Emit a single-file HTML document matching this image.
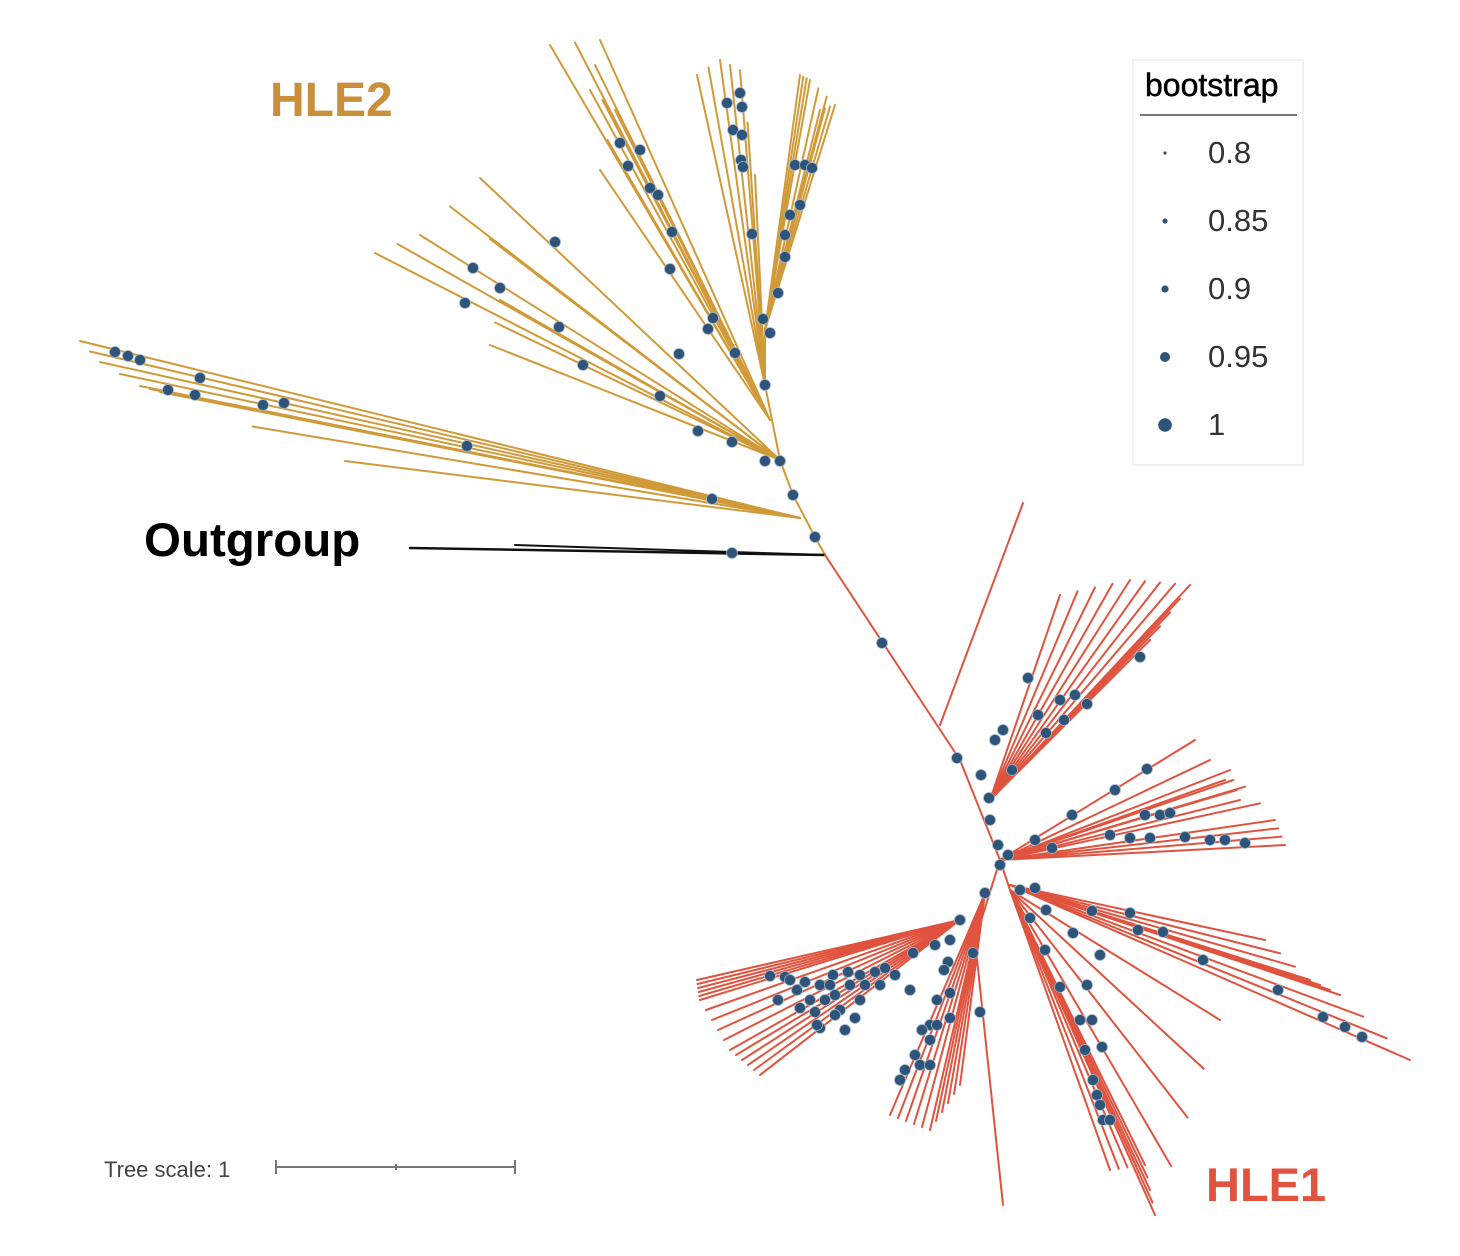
<!DOCTYPE html>
<html><head><meta charset="utf-8">
<style>
html,body{margin:0;padding:0;background:#fff;}
body{width:1460px;height:1256px;overflow:hidden;position:relative;font-family:"Liberation Sans",sans-serif;}
svg{position:absolute;left:0;top:0;}
</style></head>
<body>
<svg id="s" width="1460" height="1256" viewBox="0 0 1460 1256">
<g id="lines" stroke-linecap="round" fill="none"></g>
<g id="dots" fill="#2E5479" stroke="#9fb3c8" stroke-width="0.8"></g>
<text x="270" y="116" font-family="Liberation Sans" font-weight="bold" font-size="48" fill="#C98F3A">HLE2</text>
<text x="144" y="556" font-family="Liberation Sans" font-weight="bold" font-size="47.5" fill="#000">Outgroup</text>
<text x="1206" y="1201" font-family="Liberation Sans" font-weight="bold" font-size="47" fill="#E0533F">HLE1</text>
<rect x="1133" y="60" width="170" height="405" fill="none" stroke="#eee" stroke-width="1.5"/>
<text x="1145" y="96" font-family="Liberation Sans" font-size="32" fill="#000" stroke="#000" stroke-width="0.5">bootstrap</text>
<line x1="1140" y1="115" x2="1297" y2="115" stroke="#777" stroke-width="2"/>
<g fill="#2E5479">
<circle cx="1165" cy="153" r="1.6"/><circle cx="1165" cy="221" r="2.6"/><circle cx="1165" cy="289" r="3.6"/><circle cx="1165" cy="357" r="5"/><circle cx="1165" cy="425" r="6.8"/>
</g>
<g font-family="Liberation Sans" font-size="31" fill="#333">
<text x="1208" y="163">0.8</text><text x="1208" y="231">0.85</text><text x="1208" y="299">0.9</text><text x="1208" y="367">0.95</text><text x="1208" y="435">1</text>
</g>
<text x="104" y="1177" font-family="Liberation Sans" font-size="22" fill="#444">Tree scale: 1</text>
<g stroke="#777" stroke-width="2"><line x1="276" y1="1167" x2="515" y2="1167"/><line x1="276" y1="1160" x2="276" y2="1174"/><line x1="515" y1="1160" x2="515" y2="1174"/><line x1="396" y1="1164" x2="396" y2="1170"/></g>
</svg>
<script>
var L=document.getElementById('lines'),D=document.getElementById('dots');
var NS='http://www.w3.org/2000/svg';
function ln(a,b,c,d,col,w){var e=document.createElementNS(NS,'line');e.setAttribute('x1',a);e.setAttribute('y1',b);e.setAttribute('x2',c);e.setAttribute('y2',d);e.setAttribute('stroke',col);e.setAttribute('stroke-width',w||2);L.appendChild(e);}
function dt(x,y,r){var e=document.createElementNS(NS,'circle');e.setAttribute('cx',x);e.setAttribute('cy',y);e.setAttribute('r',r||5.5);D.appendChild(e);}
var G='#D19A38',R='#E0533F';
function fan(hx,hy,ends,col,n){
  for(var i=0;i<ends.length;i++){ln(hx,hy,ends[i][0],ends[i][1],col);}
  for(var i=0;i<ends.length-1;i++){var a=ends[i],b=ends[i+1];for(var k=1;k<=n;k++){var t=k/(n+1);ln(hx,hy,a[0]+(b[0]-a[0])*t,a[1]+(b[1]-a[1])*t,col);}}
}
ln(825,555,815,537,G);ln(815,537,793,495,G);ln(793,495,780,460,G);ln(780,460,772,420,G);ln(772,420,765,385,G);ln(765,385,765,330,G);
fan(800,518,[[80,341],[100,362],[140,386],[160,392],[345,461]],G,1);
fan(780,460,[[375,253],[420,235],[480,178],[500,300],[490,345]],G,1);
fan(770,420,[[550,45],[600,40],[590,90],[615,110],[600,170]],G,1);
fan(765,385,[[697,75],[720,60],[740,70],[755,175]],G,1);
fan(765,330,[[800,75],[810,80],[835,105],[820,110]],G,2);
ln(825,555,410,548,'#111',2.5);ln(825,555,515,545,'#111',2);
ln(825,555,960,760,R);ln(940,725,1023,503,R);ln(960,760,1000,860,R);ln(1000,860,975,940,R);ln(1000,860,1010,890,R);
fan(990,800,[[1060,595],[1130,580],[1190,585],[1150,640]],R,3);
fan(1000,860,[[1195,740],[1240,800],[1230,770],[1275,820],[1285,845]],R,2);
fan(1010,885,[[1265,940],[1310,980],[1340,995],[1410,1060]],R,2);
fan(1010,890,[[1220,1020],[1155,1215],[1145,1165],[1110,1170]],R,3);
ln(975,940,1003,1205,R);
fan(985,893,[[960,1085],[930,1130],[890,1115]],R,4);
fan(960,920,[[697,980],[700,1000],[730,1050],[760,1075]],R,4);
var dots=[[115,352],[128,356],[140,360],[168,390],[195,395],[200,378],[263,405],[284,403],[467,446],[712,499],
[473,268],[500,288],[465,303],[559,327],[583,365],[660,396],[698,431],[732,442],[765,461],[780,461],[555,242],
[620,143],[640,150],[628,166],[650,188],[658,195],[672,232],[670,269],[679,354],[713,318],[708,329],[735,353],
[727,103],[740,93],[742,107],[733,130],[742,135],[741,160],[743,167],[752,234],
[795,165],[805,165],[812,168],[800,205],[790,215],[785,235],[785,257],[778,293],[763,319],[770,333],[765,385],[793,495],[815,537],
[732,553],[882,643],
[1028,678],[1003,730],[995,740],[1012,770],[1038,715],[1060,700],[1075,695],[1087,704],[1064,720],[1046,733],[1140,657],[981,775],[957,758],[989,798],
[1147,769],[1115,790],[1072,815],[1035,840],[1052,848],[1145,815],[1160,815],[1170,813],[1110,835],[1150,838],[1185,837],[1210,840],[1225,840],[1245,843],[1130,838],[990,820],[998,845],[1008,855],[1000,865],
[1035,888],[1020,890],[1092,911],[1130,913],[1138,930],[1163,932],[1203,960],[1278,990],[1323,1017],[1345,1027],[1362,1037],
[1030,918],[1046,910],[1073,933],[1045,950],[1100,955],[1060,987],[1087,985],[1080,1020],[1092,1020],[1085,1050],[1102,1047],[1093,1080],[1097,1095],[1100,1105],[1103,1120],[1110,1120],
[980,1012],[973,953],[985,893],[960,920],
[950,940],[948,962],[935,945],[944,970],[937,1000],[950,993],[930,1025],[937,1025],[922,1030],[930,1040],[915,1055],[920,1065],[930,1065],[905,1070],[900,1080],[950,1018],
[913,953],[885,968],[875,972],[860,975],[848,972],[833,975],[820,985],[805,982],[785,977],[770,976],[797,990],[835,995],[850,985],[865,985],[880,985],[810,1000],[825,1000],[840,1010],[855,1018],[815,1012],[800,1008],[778,1000],[820,1028],[835,1015],[860,1000],[910,990],[895,975],[790,980],[830,985],[845,1030],[817,1025]];
dots.forEach(function(p){dt(p[0],p[1],5.5);});
</script>
</body></html>
